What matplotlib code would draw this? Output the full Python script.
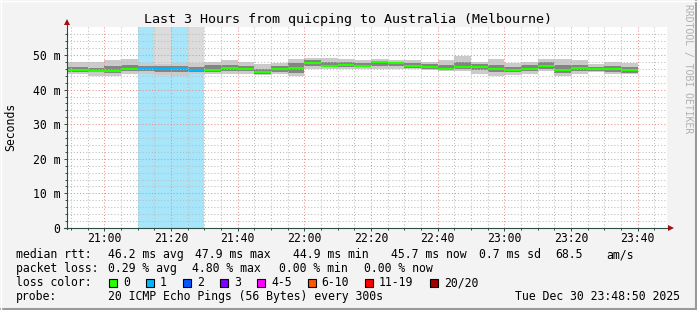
import numpy as np
import pandas as pd
import matplotlib
matplotlib.use("Agg")
import matplotlib.pyplot as plt
import matplotlib.dates as mdates
from matplotlib.lines import Line2D
from matplotlib.patches import Rectangle

plt.rcParams['font.family'] = ['DejaVu Sans Mono']

# 5 minute steps (first one clipped by the left edge)
starts = pd.date_range('2025-12-30 20:45', periods=35, freq='5min')

rtt_min = [44.45, 44.45, 44.05, 43.95, 44.45, 44.45, 44.25, 43.95, 44.45, 44.45,
           44.45, 44.65, 44.25, 44.45, 43.95, 45.95, 45.95, 45.95, 45.95, 45.95,
           45.95, 45.95, 45.65, 45.25, 45.25, 44.65, 43.95, 44.25, 44.65, 45.25,
           43.95, 44.45, 44.95, 44.45, 44.45]
rtt_q1 = [45.2, 45.2, 45.0, 44.9, 45.3, 45.3, 45.1, 45.2, 45.0, 45.2,
          45.4, 45.5, 44.6, 45.2, 44.8, 46.8, 46.4, 46.6, 46.4, 46.9,
          46.8, 46.3, 46.1, 45.7, 45.9, 45.7, 45.0, 45.1, 45.4, 46.1,
          44.9, 45.5, 45.5, 45.2, 44.9]
rtt_med = [45.75, 45.75, 45.45, 45.45, 45.95, 46.15, 45.95, 46.15, 45.65, 45.65,
           46.15, 46.05, 44.95, 45.95, 46.15, 47.55, 46.85, 47.15, 46.85, 47.85,
           47.55, 46.85, 46.55, 46.05, 46.55, 46.55, 46.05, 45.75, 46.05, 46.85,
           45.75, 46.35, 45.95, 45.95, 45.65]
rtt_q3 = [46.6, 46.6, 46.3, 46.9, 47.0, 46.7, 46.7, 46.8, 46.6, 47.0,
          47.2, 46.9, 46.0, 46.7, 47.8, 48.6, 47.9, 48.0, 47.6, 48.3,
          48.0, 47.6, 47.3, 47.0, 48.0, 47.3, 47.2, 46.6, 47.0, 47.9,
          47.1, 47.2, 46.6, 46.9, 46.5]
rtt_max = [48.05, 48.05, 47.85, 48.45, 48.75, 47.55, 47.35, 47.55, 47.55, 47.85,
           48.45, 47.85, 47.35, 47.55, 48.75, 49.25, 49.05, 48.75, 48.45, 48.75,
           48.45, 48.45, 48.05, 48.45, 49.75, 48.05, 48.75, 47.55, 48.05, 48.75,
           48.75, 48.45, 47.35, 48.05, 47.55]
lost = [0, 0, 0, 0, 0, 1, 1, 1, 1, 0,
        0, 0, 0, 0, 0, 0, 0, 0, 0, 0,
        0, 0, 0, 0, 0, 0, 0, 0, 0, 0,
        0, 0, 0, 0, 0]
smoke_to_top = [6, 8]

loss_labels = ['0', '1', '2', '3', '4-5', '6-10', '11-19', '20/20']
loss_colors = ['#26ff00', '#00b8ff', '#0059ff', '#7e00ff', '#ff00ff', '#ff5500', '#ff0000', '#a10000']

ytick_vals = [0, 10, 20, 30, 40, 50]
ytick_labels = ['0', '10 m', '20 m', '30 m', '40 m', '50 m']

W, H = 697, 310
fig = plt.figure(figsize=(W / 100, H / 100), dpi=100)
fig.patch.set_facecolor('#f3f3f3')


def fx(x):
    return x / W


def fy(y):
    return 1 - y / H


ax = fig.add_axes([fx(67), fy(228), 600 / W, 201 / H])
ax.set_facecolor('white')

x = mdates.date2num(starts)
w = 5 / 1440
t0 = mdates.date2num(pd.Timestamp('2025-12-30 20:48:50'))
t1 = mdates.date2num(pd.Timestamp('2025-12-30 23:48:50'))
ymax = 58.1

# loss background
for i, l in enumerate(lost):
    if l > 0:
        ax.axvspan(x[i], x[i] + w, color='#a6e5fa', lw=0, zorder=0.5)
for i in smoke_to_top:
    ax.bar(x[i], ymax - rtt_max[i], bottom=rtt_max[i], width=w, align='edge',
           color='#dcdcdc', lw=0, zorder=1)

lo = np.array(rtt_min)
hi = np.array(rtt_max)
q1 = np.array(rtt_q1)
q3 = np.array(rtt_q3)
ax.bar(x, hi - lo, bottom=lo, width=w, align='edge', color='#cbcbcb', lw=0, zorder=1)
ax.bar(x, q3 - q1, bottom=q1, width=w, align='edge', color='#848484', lw=0, zorder=1.2)

med_colors = [loss_colors[min(l, 7)] for l in lost]
ax.hlines(rtt_med, x, x + w, colors=med_colors, lw=1.5, zorder=3)

ax.set_xlim(t0, t1)
ax.set_ylim(0, ymax)

ax.xaxis.set_major_locator(mdates.MinuteLocator(byminute=[0, 20, 40]))
ax.xaxis.set_minor_locator(mdates.MinuteLocator(byminute=range(0, 60, 5)))
ax.xaxis.set_major_formatter(mdates.DateFormatter('%H:%M'))
ax.set_yticks(ytick_vals)
ax.set_yticklabels(ytick_labels)
ax.set_yticks(np.arange(0, 58, 2), minor=True)

ax.grid(which='minor', color='#bdbdbd', ls=(0, (1, 2)), lw=0.75, zorder=2)
ax.grid(which='major', color='#ec8e8e', ls=(0, (1, 2)), lw=0.75, zorder=2)
ax.set_axisbelow(False)

for s in ax.spines.values():
    s.set_visible(False)
ax.tick_params(which='major', length=2.2, width=0.7, color='#2c4d43', labelsize=8.3,
               labelcolor='black')
ax.tick_params(which='minor', length=1.5, width=0.7, color='#2c4d43')
ax.tick_params(axis='y', which='major', pad=2.5)
ax.tick_params(axis='x', which='major', pad=1)

# axis lines with arrows
fig.add_artist(Line2D([fx(67), fx(67)], [fy(229), fy(23)], color='#2c4d43', lw=0.8))
fig.add_artist(Line2D([fx(64), fx(670)], [fy(228), fy(228)], color='#2c4d43', lw=0.8))
fig.add_artist(Line2D([fx(67)], [fy(22)], marker='^', ms=5, color='#a01010', mew=0))
fig.add_artist(Line2D([fx(671)], [fy(228)], marker='>', ms=5, color='#a01010', mew=0))

fig.text(fx(348), fy(19), 'Last 3 Hours from quicping to Australia (Melbourne)',
         ha='center', va='center', fontsize=9.6)
fig.text(fx(11), fy(127), 'Seconds', rotation=90, ha='center', va='center', fontsize=8.3)
fig.text(fx(688), fy(4), 'RRDTOOL / TOBI OETIKER', rotation=270, ha='center', va='top',
         fontsize=7, color='#b0b0b0')

fs = 8.3
rows = [254.5, 268.5, 282.5, 296.5]
row1 = [(16, 'median rtt:'), (107.6, '46.2 ms avg'), (194.7, '47.9 ms max'),
        (293, '44.9 ms min'), (391, '45.7 ms now'), (478.7, '0.7 ms sd'),
        (555.6, '68.5'), (606.7, 'am/s')]
row2 = [(16, 'packet loss:'), (107.6, '0.29 % avg'), (192, '4.80 % max'),
        (279, '0.00 % min'), (364.4, '0.00 % now')]
for px_, s in row1:
    fig.text(fx(px_), fy(rows[0]), s, ha='left', va='center', fontsize=fs)
for px_, s in row2:
    fig.text(fx(px_), fy(rows[1]), s, ha='left', va='center', fontsize=fs)

fig.text(fx(16), fy(rows[2]), 'loss color:', ha='left', va='center', fontsize=fs)
sq_x = [109, 145.8, 182.7, 220, 257, 307.6, 365, 430]
for sx, lab, col in zip(sq_x, loss_labels, loss_colors):
    fig.add_artist(Rectangle((fx(sx), fy(rows[2] + 4)), 8 / W, 8 / H, facecolor=col,
                             edgecolor='black', lw=0.8, transform=fig.transFigure))
    fig.text(fx(sx + 14), fy(rows[2]), lab, ha='left', va='center', fontsize=fs)

fig.text(fx(16), fy(rows[3]), 'probe:', ha='left', va='center', fontsize=fs)
fig.text(fx(107.6), fy(rows[3]), '20 ICMP Echo Pings (56 Bytes) every 300s',
         ha='left', va='center', fontsize=fs)
fig.text(fx(680), fy(rows[3]), 'Tue Dec 30 23:48:50 2025', ha='right', va='center', fontsize=fs)

# 3d-ish frame
fig.add_artist(Line2D([0, 1], [fy(309), fy(309)], color='#9a9a9a', lw=1.5))
fig.add_artist(Line2D([fx(696), fx(696)], [0, 1], color='#9a9a9a', lw=1.5))
fig.add_artist(Line2D([0, 1], [fy(0.5), fy(0.5)], color='#ffffff', lw=1))
fig.add_artist(Line2D([fx(0.5), fx(0.5)], [0, 1], color='#ffffff', lw=1))

fig.savefig('out.png', dpi=100, facecolor=fig.get_facecolor())
